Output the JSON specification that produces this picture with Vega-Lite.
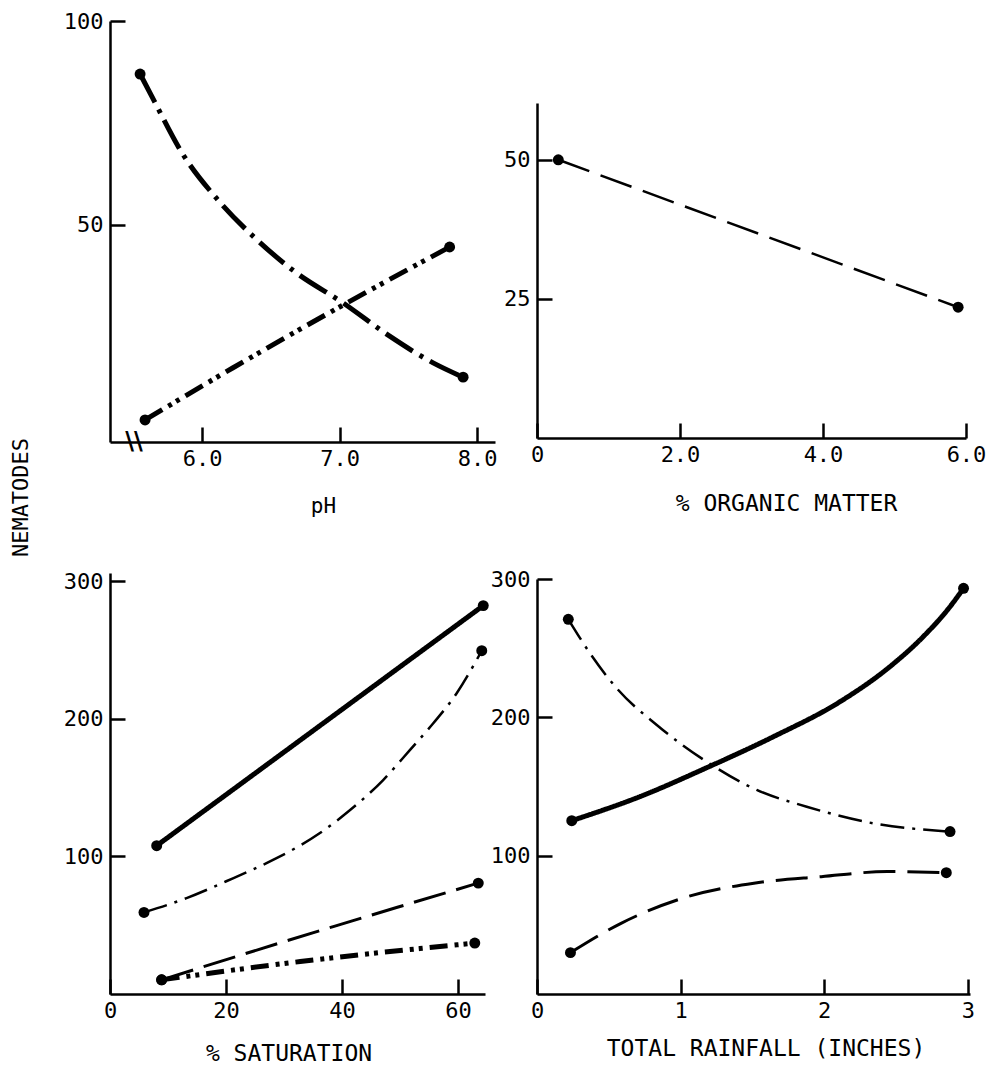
{
  "$schema": "https://vega.github.io/schema/vega-lite/v6.json",
  "autosize": {"type": "none"},
  "padding": {"left": 110, "top": 21, "right": 884, "bottom": 1050},
  "background": "white",
  "config": {
    "view": {"stroke": null},
    "axis": {
      "labelFont": "DejaVu Sans Mono", "labelFontSize": 22, "labelColor": "black",
      "titleFont": "DejaVu Sans Mono", "titleFontSize": 23, "titleFontWeight": "normal", "titleColor": "black",
      "domainColor": "black", "domainWidth": 2.5, "tickColor": "black", "tickWidth": 2.5, "tickSize": -15,
      "grid": false, "labelFlush": false, "labelOverlap": false, "labelBound": false
    },
    "axisX": {"labelPadding": 21, "titleBaseline": "alphabetic", "titleAlign": "center"},
    "axisY": {"labelPadding": 22}
  },
  "datasets": {
    "ph": [
      {"x": 5.549, "y": 87.0, "s": "a", "m": 1},
      {"x": 5.636, "y": 81.4, "s": "a", "m": 0},
      {"x": 5.855, "y": 67.6, "s": "a", "m": 0},
      {"x": 6.116, "y": 56.1, "s": "a", "m": 0},
      {"x": 6.385, "y": 46.8, "s": "a", "m": 0},
      {"x": 6.676, "y": 38.5, "s": "a", "m": 0},
      {"x": 7.025, "y": 30.9, "s": "a", "m": 0},
      {"x": 7.353, "y": 23.0, "s": "a", "m": 0},
      {"x": 7.68, "y": 16.2, "s": "a", "m": 0},
      {"x": 7.898, "y": 12.7, "s": "a", "m": 1},
      {"x": 5.585, "y": 2.2, "s": "b", "m": 1},
      {"x": 6.225, "y": 15.0, "s": "b", "m": 0},
      {"x": 7.0, "y": 29.9, "s": "b", "m": 0},
      {"x": 7.8, "y": 44.6, "s": "b", "m": 1}
    ],
    "phbreak": [
      {"bx": 5.505, "by": -3.2, "t": "\\\\"}
    ],
    "om": [
      {"x": 0.298, "y": 50.0, "s": "c", "m": 1},
      {"x": 5.89, "y": 23.5, "s": "c", "m": 1}
    ],
    "sat": [
      {"x": 8.05, "y": 107.8, "s": "solid", "m": 1},
      {"x": 64.36, "y": 282.3, "s": "solid", "m": 1},
      {"x": 5.86, "y": 59.3, "s": "dashdot", "m": 1},
      {"x": 13.2, "y": 69.7, "s": "dashdot", "m": 0},
      {"x": 21.3, "y": 84.3, "s": "dashdot", "m": 0},
      {"x": 28.2, "y": 97.6, "s": "dashdot", "m": 0},
      {"x": 36.2, "y": 117.0, "s": "dashdot", "m": 0},
      {"x": 41.4, "y": 133.7, "s": "dashdot", "m": 0},
      {"x": 47.1, "y": 155.5, "s": "dashdot", "m": 0},
      {"x": 51.7, "y": 177.3, "s": "dashdot", "m": 0},
      {"x": 55.74, "y": 196.8, "s": "dashdot", "m": 0},
      {"x": 59.78, "y": 218.6, "s": "dashdot", "m": 0},
      {"x": 64.1, "y": 249.5, "s": "dashdot", "m": 1},
      {"x": 8.9, "y": 10.3, "s": "dashed", "m": 1},
      {"x": 38.5, "y": 49.0, "s": "dashed", "m": 0},
      {"x": 50.0, "y": 63.6, "s": "dashed", "m": 0},
      {"x": 63.5, "y": 80.6, "s": "dashed", "m": 1},
      {"x": 8.9, "y": 10.3, "s": "dashdotdot", "m": 1},
      {"x": 32.8, "y": 23.6, "s": "dashdotdot", "m": 0},
      {"x": 62.9, "y": 37.0, "s": "dashdotdot", "m": 1}
    ],
    "rain": [
      {"x": 0.242, "y": 125.3, "s": "solid", "m": 1},
      {"x": 0.717, "y": 142.7, "s": "solid", "m": 0},
      {"x": 1.18, "y": 163.5, "s": "solid", "m": 0},
      {"x": 1.646, "y": 186.0, "s": "solid", "m": 0},
      {"x": 2.11, "y": 211.3, "s": "solid", "m": 0},
      {"x": 2.458, "y": 236.7, "s": "solid", "m": 0},
      {"x": 2.69, "y": 258.4, "s": "solid", "m": 0},
      {"x": 2.876, "y": 280.0, "s": "solid", "m": 0},
      {"x": 2.97, "y": 293.3, "s": "solid", "m": 1},
      {"x": 0.218, "y": 270.9, "s": "dashdot", "m": 1},
      {"x": 0.369, "y": 246.3, "s": "dashdot", "m": 0},
      {"x": 0.555, "y": 221.0, "s": "dashdot", "m": 0},
      {"x": 0.834, "y": 194.5, "s": "dashdot", "m": 0},
      {"x": 1.18, "y": 168.0, "s": "dashdot", "m": 0},
      {"x": 1.53, "y": 147.5, "s": "dashdot", "m": 0},
      {"x": 1.878, "y": 135.4, "s": "dashdot", "m": 0},
      {"x": 2.342, "y": 123.4, "s": "dashdot", "m": 0},
      {"x": 2.876, "y": 117.4, "s": "dashdot", "m": 1},
      {"x": 0.233, "y": 29.9, "s": "dashed", "m": 1},
      {"x": 0.585, "y": 51.1, "s": "dashed", "m": 0},
      {"x": 1.05, "y": 70.4, "s": "dashed", "m": 0},
      {"x": 1.51, "y": 80.1, "s": "dashed", "m": 0},
      {"x": 1.98, "y": 84.8, "s": "dashed", "m": 0},
      {"x": 2.44, "y": 88.5, "s": "dashed", "m": 0},
      {"x": 2.85, "y": 87.7, "s": "dashed", "m": 1}
    ]
  },
  "columns": 2,
  "spacing": {"row": 131, "column": 42},
  "bounds": "flush",
  "resolve": {"scale": {"strokeDash": "independent", "strokeWidth": "independent"}},
  "concat": [
    {
      "width": 385, "height": 421,
      "layer": [
        {
          "data": {"name": "ph"},
          "mark": {"type": "line", "interpolate": "monotone", "color": "black"},
          "encoding": {
            "x": {"field": "x", "type": "quantitative",
              "scale": {"domain": [5.33, 8.13], "nice": false, "zero": false},
              "axis": {"values": [6, 7, 8], "format": ".1f", "title": "pH", "titleX": 213, "titleY": 70, "titleFontSize": 21}},
            "y": {"field": "y", "type": "quantitative",
              "scale": {"domain": [-3.2, 100], "nice": false, "zero": false},
              "axis": {"values": [50, 100], "title": "NEMATODES", "titleX": -90, "titleY": 476, "titleAngle": 270, "titleAlign": "center", "titleBaseline": "middle", "titleFontSize": 22}},
            "detail": {"field": "s"},
            "strokeDash": {"field": "s", "type": "nominal", "scale": {"domain": ["a", "b"], "range": [[32, 8, 4, 8], [20, 7, 4, 5, 4, 7]]}, "legend": null},
            "strokeWidth": {"field": "s", "type": "nominal", "scale": {"type": "ordinal", "domain": ["a", "b"], "range": [5, 5]}, "legend": null}
          }
        },
        {
          "data": {"name": "ph"},
          "transform": [{"filter": "datum.m == 1"}],
          "mark": {"type": "circle", "size": 120, "color": "black", "opacity": 1},
          "encoding": {
            "x": {"field": "x", "type": "quantitative"},
            "y": {"field": "y", "type": "quantitative"}
          }
        },
        {
          "data": {"name": "phbreak"},
          "mark": {"type": "text", "fontSize": 24, "font": "DejaVu Sans", "fontWeight": "bold", "color": "black", "baseline": "middle", "align": "center"},
          "encoding": {
            "x": {"field": "bx", "type": "quantitative"},
            "y": {"field": "by", "type": "quantitative"},
            "text": {"field": "t", "type": "nominal"}
          }
        }
      ]
    },
    {
      "width": 429, "height": 417,
      "data": {"name": "om"},
      "encoding": {
        "x": {"field": "x", "type": "quantitative",
          "scale": {"domain": [0, 6], "nice": false, "zero": false},
          "axis": {"values": [0, 2, 4, 6], "labelExpr": "datum.value == 0 ? '0' : format(datum.value, '.1f')", "title": "% ORGANIC MATTER", "titleX": 249, "titleY": 72}},
        "y": {"field": "y", "type": "quantitative",
          "scale": {"domain": [0, 60.2], "range": [417, 82], "nice": false, "zero": false},
          "axis": {"values": [25, 50], "title": null}}
      },
      "layer": [
        {"mark": {"type": "line", "color": "black", "strokeDash": [33, 12], "strokeWidth": 2.5}},
        {"transform": [{"filter": "datum.m == 1"}], "mark": {"type": "circle", "size": 120, "color": "black", "opacity": 1}}
      ]
    },
    {
      "width": 375, "height": 421,
      "data": {"name": "sat"},
      "encoding": {
        "x": {"field": "x", "type": "quantitative",
          "scale": {"domain": [0, 64.66], "nice": false, "zero": false},
          "axis": {"values": [0, 20, 40, 60], "title": "% SATURATION", "titleX": 178.5, "titleY": 66}},
        "y": {"field": "y", "type": "quantitative",
          "scale": {"domain": [0, 306], "nice": false, "zero": false},
          "axis": {"values": [100, 200, 300], "title": null}}
      },
      "layer": [
        {
          "mark": {"type": "line", "interpolate": "monotone", "color": "black"},
          "encoding": {
            "detail": {"field": "s"},
            "strokeDash": {"field": "s", "type": "nominal", "scale": {"domain": ["solid", "dashdot", "dashed", "dashdotdot"], "range": [[1, 0], [24, 8, 3, 8], [33, 11], [18, 7, 4, 5, 4, 7]]}, "legend": null},
            "strokeWidth": {"field": "s", "type": "nominal", "scale": {"type": "ordinal", "domain": ["solid", "dashdot", "dashed", "dashdotdot"], "range": [5, 2.5, 3, 5]}, "legend": null}
          }
        },
        {"transform": [{"filter": "datum.m == 1"}], "mark": {"type": "circle", "size": 120, "color": "black", "opacity": 1}}
      ]
    },
    {
      "width": 433, "height": 421,
      "data": {"name": "rain"},
      "encoding": {
        "x": {"field": "x", "type": "quantitative",
          "scale": {"domain": [0, 3.015], "nice": false, "zero": false},
          "axis": {"values": [0, 1, 2, 3], "title": "TOTAL RAINFALL (INCHES)", "titleX": 228.5, "titleY": 61}},
        "y": {"field": "y", "type": "quantitative",
          "scale": {"domain": [0, 300], "range": [421, 6], "nice": false, "zero": false},
          "axis": {"values": [100, 200, 300], "title": null}}
      },
      "layer": [
        {
          "mark": {"type": "line", "interpolate": "monotone", "color": "black"},
          "encoding": {
            "detail": {"field": "s"},
            "strokeDash": {"field": "s", "type": "nominal", "scale": {"domain": ["solid", "dashdot", "dashed"], "range": [[1, 0], [24, 8, 3, 8], [32, 12]]}, "legend": null},
            "strokeWidth": {"field": "s", "type": "nominal", "scale": {"type": "ordinal", "domain": ["solid", "dashdot", "dashed"], "range": [5, 2.5, 3]}, "legend": null}
          }
        },
        {"transform": [{"filter": "datum.m == 1"}], "mark": {"type": "circle", "size": 120, "color": "black", "opacity": 1}}
      ]
    }
  ]
}
